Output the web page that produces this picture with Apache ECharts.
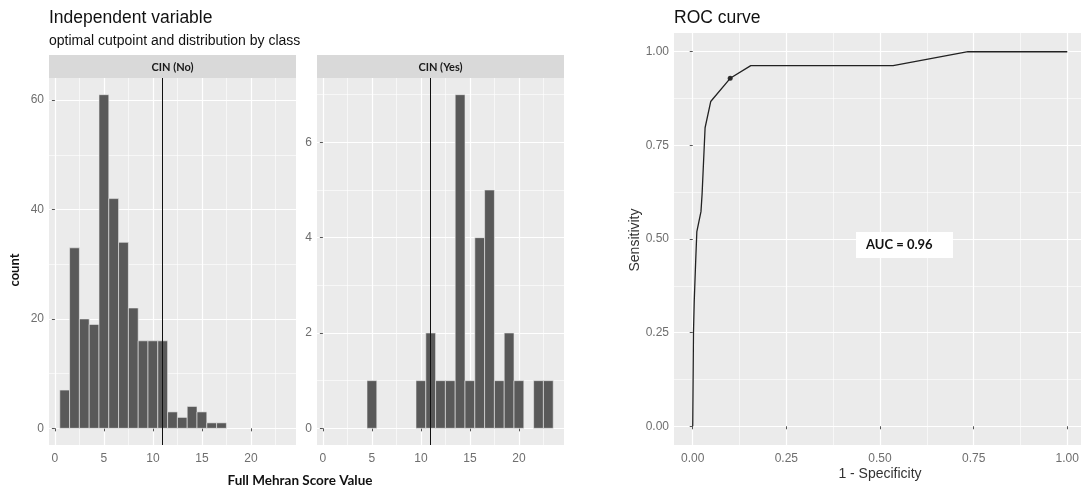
<!DOCTYPE html>
<html>
<head>
<meta charset="utf-8">
<script src="https://cdn.jsdelivr.net/npm/echarts@6/dist/echarts.min.js"></script>
<style>
  html, body { margin: 0; padding: 0; background: #fff; overflow: hidden; }
  /* the ROC panel runs past the right edge of the picture, so the canvas does too */
  #chart { width: 1090px; height: 493px; }
</style>
</head>
<body>
<div id="chart"></div>
<script>
// histogram data (Full Mehran score, 1-point bins)
const noScores = [1, 2, 3, 4, 5, 6, 7, 8, 9, 10, 11, 12, 13, 14, 15, 16, 17];
const noCounts = [7, 33, 20, 19, 61, 42, 34, 22, 16, 16, 16, 3, 2, 4, 3, 1, 1];
const yesScores = [5, 10, 11, 12, 13, 14, 15, 16, 17, 18, 19, 20, 22, 23];
const yesCounts = [1, 1, 2, 1, 1, 7, 1, 4, 5, 1, 2, 1, 1, 1];
const cutpoint = 11;

const scoreTicks = [0, 5, 10, 15, 20];
const scoreMinor = [2.5, 7.5, 12.5, 17.5, 22.5];
const noTicks = [0, 20, 40, 60];
const noMinor = [10, 30, 50];
const yesTicks = [0, 2, 4, 6];
const yesMinor = [1, 3, 5, 7];

// ROC curve
const rocFpr = [0, 0.002, 0.004, 0.004, 0.006, 0.008, 0.011, 0.022, 0.025, 0.033, 0.048, 0.1, 0.155, 0.535, 0.735, 1];
const rocTpr = [0, 0.25, 0.25, 0.333, 0.333, 0.444, 0.52, 0.573, 0.62, 0.797, 0.867, 0.929, 0.963, 0.963, 1, 1];
const optFpr = 0.1;
const optTpr = 0.929;
const aucText = 'AUC = 0.96';
const rocTicks = [0, 0.25, 0.5, 0.75, 1];
const rocMinor = [0.125, 0.375, 0.625, 0.875];

const chart = echarts.init(document.getElementById('chart'));

const G = [
  { left: 49, top: 78, width: 247, height: 367 },
  { left: 317, top: 78, width: 247, height: 367 },
  { left: 674, top: 33, width: 412, height: 412 }
];

function majorAxis(gi, min, max, ticks, fmt, margin) {
  return {
    type: 'value', gridIndex: gi, min: min, max: max,
    axisLine: { show: false },
    axisTick: { show: true, length: 3, customValues: ticks, lineStyle: { color: '#555' } },
    axisLabel: { customValues: ticks, color: '#6e6e6e', fontSize: 12, fontFamily: 'Liberation Sans', margin: margin || 5, formatter: fmt },
    splitLine: { show: true, lineStyle: { color: '#fff', width: 1.2 } }
  };
}
function minorAxis(gi, min, max, ticks) {
  return {
    type: 'value', gridIndex: gi, min: min, max: max,
    axisLine: { show: false },
    axisTick: { show: false, customValues: ticks },
    axisLabel: { show: false, customValues: ticks },
    splitLine: { show: true, lineStyle: { color: '#fff', width: 0.6 } }
  };
}
const fmt2 = v => v.toFixed(2);

function histItem(params, api) {
  const x = api.value(0), y = api.value(1);
  const a = api.coord([x - 0.5, 0]);
  const b = api.coord([x + 0.5, y]);
  return {
    type: 'rect',
    shape: { x: a[0], y: b[1], width: b[0] - a[0], height: a[1] - b[1] },
    style: { fill: '#595959', stroke: '#ebebeb', lineWidth: 0.6 }
  };
}
const cutLine = {
  silent: true, symbol: 'none', label: { show: false },
  lineStyle: { color: '#111', width: 1, type: 'solid' },
  data: [{ xAxis: cutpoint }]
};

function txt(x, y, text, font, extra) {
  return Object.assign({
    type: 'text', x: x, y: y, silent: true,
    style: Object.assign({ text: text, fill: '#111', align: 'left', verticalAlign: 'middle' }, font)
  }, extra || {});
}
const arial = 'Liberation Sans';
const bold = { fontFamily: 'Lato', fontWeight: 'bold', fontSize: 13 };

const graphics = [
  txt(49, 18, 'Independent variable', { fontFamily: arial, fontSize: 17.5 }),
  txt(49, 41, 'optimal cutpoint and distribution by class', { fontFamily: arial, fontSize: 14 }),
  { type: 'rect', silent: true, shape: { x: G[0].left, y: 55, width: G[0].width, height: 23 }, style: { fill: '#d9d9d9' } },
  { type: 'rect', silent: true, shape: { x: G[1].left, y: 55, width: G[1].width, height: 23 }, style: { fill: '#d9d9d9' } },
  txt(G[0].left + G[0].width / 2, 67, 'CIN (No)', { fontFamily: 'Lato', fontWeight: 'bold', fontSize: 11, align: 'center', fill: '#1a1a1a' }),
  txt(G[1].left + G[1].width / 2, 67, 'CIN (Yes)', { fontFamily: 'Lato', fontWeight: 'bold', fontSize: 11, align: 'center', fill: '#1a1a1a' }),
  txt(15, 270, 'count', Object.assign({ align: 'center' }, bold), { rotation: Math.PI / 2 }),
  txt(300, 481, 'Full Mehran Score Value', Object.assign({}, bold, { align: 'center', fontSize: 13.5 })),
  txt(674, 18, 'ROC curve', { fontFamily: arial, fontSize: 17.5 }),
  txt(880, 474, '1 - Specificity', { fontFamily: arial, fontSize: 14, align: 'center', fill: '#333' }),
  txt(635, 240, 'Sensitivity', { fontFamily: arial, fontSize: 14, align: 'center', fill: '#333' }, { rotation: Math.PI / 2 }),
  { type: 'rect', silent: true, z: 10, shape: { x: 856, y: 232, width: 97, height: 26 }, style: { fill: '#fff' } },
  txt(866, 245, aucText, Object.assign({}, bold), { z: 11 })
];

chart.setOption({
  animation: false,
  backgroundColor: '#fff',
  grid: G.map(g => Object.assign({ show: true, backgroundColor: '#ebebeb', borderWidth: 0 }, g)),
  xAxis: [
    majorAxis(0, -0.6, 24.6, scoreTicks, null, 8),
    majorAxis(1, -0.6, 24.6, scoreTicks, null, 8),
    majorAxis(2, -0.05, 1.05, rocTicks, fmt2, 8),
    minorAxis(0, -0.6, 24.6, scoreMinor),
    minorAxis(1, -0.6, 24.6, scoreMinor),
    minorAxis(2, -0.05, 1.05, rocMinor)
  ],
  yAxis: [
    majorAxis(0, -3.05, 64.05, noTicks),
    majorAxis(1, -0.35, 7.35, yesTicks),
    majorAxis(2, -0.05, 1.05, rocTicks, fmt2),
    minorAxis(0, -3.05, 64.05, noMinor),
    minorAxis(1, -0.35, 7.35, yesMinor),
    minorAxis(2, -0.05, 1.05, rocMinor)
  ],
  series: [
    {
      type: 'custom', xAxisIndex: 0, yAxisIndex: 0, clip: true,
      renderItem: histItem, encode: { x: 0, y: 1 },
      data: noScores.map((s, i) => [s, noCounts[i]]),
      markLine: cutLine
    },
    {
      type: 'custom', xAxisIndex: 1, yAxisIndex: 1, clip: true,
      renderItem: histItem, encode: { x: 0, y: 1 },
      data: yesScores.map((s, i) => [s, yesCounts[i]]),
      markLine: cutLine
    },
    {
      type: 'line', xAxisIndex: 2, yAxisIndex: 2, symbol: 'none',
      lineStyle: { color: '#222', width: 1.3 },
      data: rocFpr.map((f, i) => [f, rocTpr[i]])
    },
    {
      type: 'scatter', xAxisIndex: 2, yAxisIndex: 2, symbolSize: 5,
      itemStyle: { color: '#000' },
      data: [[optFpr, optTpr]]
    }
  ],
  graphic: graphics
});
</script>
</body>
</html>
